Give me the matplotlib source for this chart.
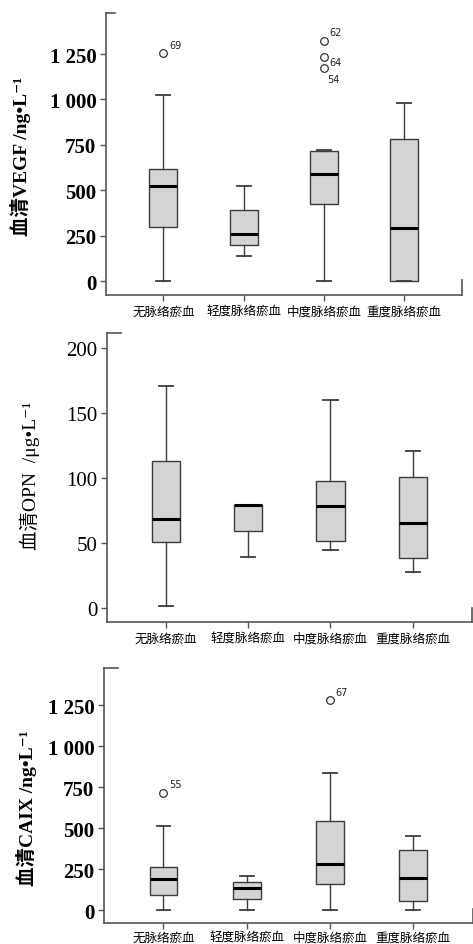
import matplotlib
matplotlib.use("Agg")
import matplotlib.pyplot as plt
from matplotlib.lines import Line2D

# ---------------- data ----------------
categories = ['无脉络瘀血', '轻度脉络瘀血', '中度脉络瘀血', '重度脉络瘀血']

vegf_low = [0, 140, 0, 0]
vegf_q1 = [298, 198, 422, 0]
vegf_med = [523, 258, 590, 290]
vegf_q3 = [615, 389, 714, 780]
vegf_high = [1024, 521, 721, 982]
vegf_outliers = [[1255], [], [1320, 1235, 1172], []]
vegf_outlier_ids = [['69'], [], ['62', '64', '54'], []]

opn_low = [1.3, 39.3, 44.7, 27.3]
opn_q1 = [50.6, 59.4, 51.7, 38.6]
opn_med = [68.2, 79.4, 78.4, 65.3]
opn_q3 = [113, 79.4, 97.5, 100.8]
opn_high = [170.7, 79.4, 159.9, 120.8]
opn_outliers = [[], [], [], []]
opn_outlier_ids = [[], [], [], []]

caix_low = [0, 0, 0, 0]
caix_q1 = [93, 67, 156, 55]
caix_med = [192, 136, 284, 197]
caix_q3 = [265, 172, 542, 367]
caix_high = [511, 207, 834, 452]
caix_outliers = [[716], [], [1280], []]
caix_outlier_ids = [['55'], [], ['67'], []]

ticks_ng = [0, 250, 500, 750, 1000, 1250]
ticklabels_ng = ['0', '250', '500', '750', '1 000', '1 250']
ticks_opn = [0, 50, 100, 150, 200]
ticklabels_opn = ['0', '50', '100', '150', '200']

# ---------------- style ----------------
W, H = 473, 945
fig = plt.figure(figsize=(W / 100, H / 100), dpi=100)

SERIF = ['Liberation Serif', 'Noto Sans CJK SC', 'DejaVu Serif']
CJK = ['Noto Sans CJK SC', 'DejaVu Sans']
EDGE = '#3c3c3c'


def make_ax(left, right, top, bottom):
    return fig.add_axes([left / W, 1 - bottom / H, (right - left) / W, (bottom - top) / H])


def draw_panel(ax, px, low, q1, med, q3, high, outs, ids, width, ylim, ticks, ticklabels,
               ylabel, bold, label_offsets, top_tick_px, right_tick_px,
               label_right_px, label_center_px, xpad):
    left, right, top, bottom = px
    stats = []
    for i in range(len(categories)):
        stats.append(dict(whislo=low[i], q1=q1[i], med=med[i], q3=q3[i],
                          whishi=high[i], fliers=outs[i]))
    pos = list(range(1, len(categories) + 1))
    ax.bxp(stats, positions=pos, widths=width, capwidths=width * 0.5,
           patch_artist=True, showfliers=True,
           boxprops=dict(facecolor='#d4d4d4', edgecolor=EDGE, linewidth=1.0),
           medianprops=dict(color='black', linewidth=2.2, solid_capstyle='butt'),
           whiskerprops=dict(color=EDGE, linewidth=1.0),
           capprops=dict(color=EDGE, linewidth=1.3),
           flierprops=dict(marker='o', markerfacecolor='none', markeredgecolor='#333333',
                           markersize=5.5, markeredgewidth=0.9))
    for i in range(len(categories)):
        for v, t in zip(outs[i], ids[i]):
            dx, dy = label_offsets.get(t, (3, 4))
            ax.annotate(t, xy=(pos[i], v), xytext=(dx, dy), textcoords='offset points',
                        fontsize=7, family=['DejaVu Sans'], color='#222222',
                        ha='left', va='center')
    ax.set_xlim(0.285, 4.72)
    ax.set_ylim(*ylim)
    ax.set_yticks(ticks)
    ax.set_yticklabels(ticklabels, family=SERIF, fontsize=15,
                       fontweight='bold' if bold else 'normal')
    ax.set_xticks(pos)
    ax.set_xticklabels(categories, family=CJK, fontsize=9, fontweight='medium')
    for s in ['top', 'right']:
        ax.spines[s].set_visible(False)
    for s in ['left', 'bottom']:
        ax.spines[s].set_color('#555555')
        ax.spines[s].set_linewidth(1.2)
    ax.tick_params(axis='y', length=4.5, width=1, color='#555555', pad=2.5)
    ax.tick_params(axis='x', length=4.5, width=1, color='#555555', pad=xpad)
    ax.set_facecolor('white')
    fx = top_tick_px / (right - left)
    fy = right_tick_px / (bottom - top)
    ax.add_line(Line2D([0, fx], [1, 1], transform=ax.transAxes, color='#555555',
                       lw=1.2, clip_on=False))
    ax.add_line(Line2D([1, 1], [0, fy], transform=ax.transAxes, color='#555555',
                       lw=1.2, clip_on=False))
    ax.set_ylabel(ylabel, family=SERIF, fontsize=14,
                  fontweight='bold' if bold else 'normal')
    ax.yaxis.set_label_coords((label_right_px - left) / (right - left),
                              (bottom - label_center_px) / (bottom - top))


p1 = (106, 462, 14, 296)
ax1 = make_ax(*p1)
draw_panel(ax1, p1, vegf_low, vegf_q1, vegf_med, vegf_q3, vegf_high, vegf_outliers,
           vegf_outlier_ids, 0.35, (-77, 1476), ticks_ng, ticklabels_ng,
           '血清VEGF /ng•L⁻¹', True,
           {'69': (4, 6), '62': (4, 7), '64': (4, -4), '54': (2, -8)}, 9, 15,
           31, 156, 2.5)

p2 = (107, 472, 334, 623)
ax2 = make_ax(*p2)
draw_panel(ax2, p2, opn_low, opn_q1, opn_med, opn_q3, opn_high, opn_outliers,
           opn_outlier_ids, 0.345, (-11, 211.6), ticks_opn, ticklabels_opn,
           '血清OPN  /μg•L⁻¹', False, {}, 14, 14, 40, 476, 2.5)

p3 = (104, 473, 669, 924)
ax3 = make_ax(*p3)
draw_panel(ax3, p3, caix_low, caix_q1, caix_med, caix_q3, caix_high, caix_outliers,
           caix_outlier_ids, 0.335, (-79, 1477), ticks_ng, ticklabels_ng,
           '血清CAIX /ng•L⁻¹', True, {'55': (4, 6), '67': (4, 6)}, 14, 14,
           37, 808, 1.0)

fig.savefig('out.png', dpi=100, facecolor='white')
